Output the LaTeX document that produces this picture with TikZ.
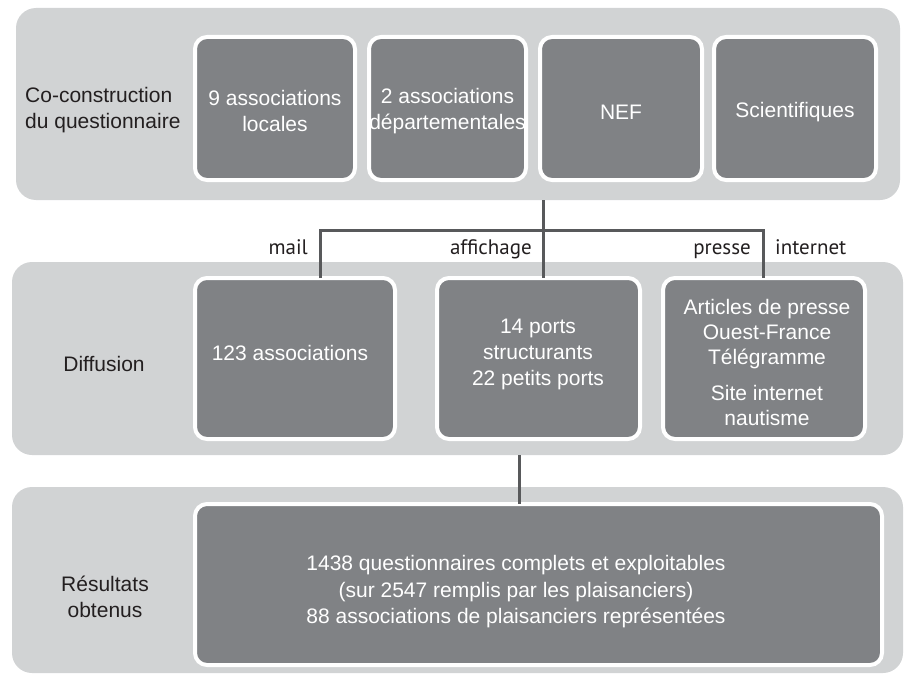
\documentclass[tikz,border=0pt]{standalone}
\usepackage{fontspec}
\setmainfont{Liberation Sans}
\newfontfamily\labfont{PT Sans}
\definecolor{bandgray}{HTML}{D1D3D4}
\definecolor{boxgray}{HTML}{808285}
\definecolor{linegray}{HTML}{58595B}
\definecolor{txtcol}{HTML}{231F20}
\begin{document}
\begin{tikzpicture}[x=1pt,y=-1pt,
  band/.style={fill=bandgray, rounded corners=20pt, inner sep=0pt, outer sep=0pt},
  gbox/.style={fill=boxgray, draw=white, line width=4pt, rounded corners=12pt,
    inner sep=0pt, outer sep=0pt, text=white, align=center,
    font=\fontsize{21}{26}\selectfont},
  btext/.style={text=white, align=center, inner sep=0pt, font=\fontsize{21}{26}\selectfont},
  sidelab/.style={text=txtcol, inner sep=0pt, font=\fontsize{21}{26}\selectfont},
  conn/.style={draw=linegray, line width=3pt},
  clab/.style={text=txtcol, inner sep=0pt, font=\labfont\fontsize{21}{24}\selectfont}]
\useasboundingbox (0,0) rectangle (905,677);

% bands
\node[band, minimum width=884pt, minimum height=192pt] (band1) at (458,104) {};
\node[band, minimum width=891pt, minimum height=193pt] (band2) at (457.5,358.5) {};
\node[band, minimum width=891pt, minimum height=186pt] (band3) at (457.5,580) {};

% side labels
\node[sidelab, align=left, anchor=west] (l1) at (25,110) {Co-construction\\du questionnaire};
\node[sidelab] (l2) at (104,364) {Diffusion};
\node[sidelab, align=center] (l3) at (105,597) {Résultats\\obtenus};

% top boxes
\node[gbox, minimum width=160pt, minimum height=143pt] (t1) at (275,108.5) {};
\node[gbox, minimum width=157pt, minimum height=143pt] (t2) at (447.5,108.5) {};
\node[gbox, minimum width=162pt, minimum height=143pt] (t3) at (621,108.5) {};
\node[gbox, minimum width=162pt, minimum height=143pt] (t4) at (795,108.5) {};
\node[btext] (t1t) at (275,111) {9 associations\\locales};
\node[btext] (t2t) at (447.5,111) {2 associations\\départementales};
\node[btext] (t3t) at (621,112) {NEF};
\node[btext] (t4t) at (795,112) {Scientifiques};

% middle boxes
\node[gbox, minimum width=200pt, minimum height=161pt] (m1) at (295,358.5) {};
\node[gbox, minimum width=203pt, minimum height=161pt] (m2) at (538.5,358.5) {};
\node[gbox, minimum width=202pt, minimum height=161pt] (m3) at (764,358.5) {};
\node[btext] (m1t) at (290,353) {123 associations};
\node[btext] (m2t) at (538,354) {14 ports\\structurants\\22 petits ports};
\node[btext, font=\fontsize{21}{25}\selectfont] (m3t) at (767,362)
  {Articles de presse\\Ouest-France\\Télégramme\\[11pt]Site internet\\nautisme};

% bottom box
\node[gbox, minimum width=687pt, minimum height=161pt] (b1) at (538.5,584.5) {};
\node[btext, font=\fontsize{21}{26.5}\selectfont] (b1t) at (516,592) {1438 questionnaires complets et exploitables\\(sur 2547 remplis par les plaisanciers)\\88 associations de plaisanciers représentées};

% connectors
\coordinate (j) at (543,230);
\coordinate (jl) at (320,230);
\coordinate (jr) at (763,230);
\draw[conn] (band1.south -| j) -- (j);
\draw[conn] (m1.north -| jl) -- (jl) -- (jr) -- (m3.north -| jr);
\draw[conn] (j) -- (m2.north -| j);
\coordinate (k) at (519,470);
\draw[conn] (band2.south -| k) -- (b1.north -| k);

% connector labels
\node[clab, anchor=base east] (lm) at (308,254) {mail};
\node[clab, anchor=base east] (la) at (532,254) {affichage};
\node[clab, anchor=base east] (lp) at (751,254) {presse};
\node[clab, anchor=base west] (li) at (775,254) {internet};
\end{tikzpicture}
\end{document}
